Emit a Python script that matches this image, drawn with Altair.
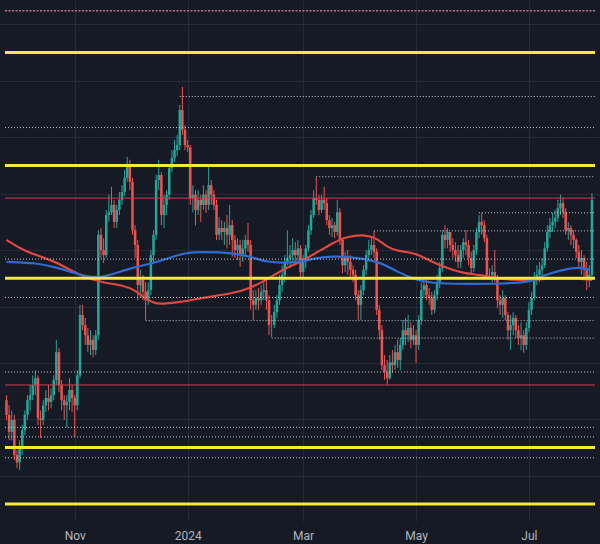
import altair as alt
import numpy as np
import pandas as pd

# ---------------- data (EUR/USD style daily candles) ----------------
FIRST_OPEN = 1.0584
CLOSES = [
    1.0558, 1.0528, 1.0549, 1.0487, 1.0474, 1.0499, 1.0531, 1.0558, 1.0584, 1.0593,
    1.0611, 1.0623, 1.0552, 1.0549, 1.0575, 1.0588, 1.0581, 1.0593, 1.0620, 1.0669,
    1.0611, 1.0584, 1.0575, 1.0581, 1.0602, 1.0588, 1.0575, 1.0628, 1.0735, 1.0717,
    1.0699, 1.0682, 1.0691, 1.0673, 1.0699, 1.0877, 1.0850, 1.0841, 1.0912, 1.0917,
    1.0930, 1.0900, 1.0921, 1.0939, 1.0953, 1.0978, 1.1001, 1.0971, 1.0885, 1.0859,
    1.0788, 1.0797, 1.0776, 1.0761, 1.0779, 1.0841, 1.0877, 1.0974, 1.0983, 1.0912,
    1.0930, 1.0948, 1.0995, 1.1013, 1.1027, 1.1036, 1.1098, 1.1063, 1.1036, 1.1032,
    1.0942, 1.0948, 1.0921, 1.0939, 1.0930, 1.0948, 1.0930, 1.0965, 1.0948, 1.0930,
    1.0877, 1.0889, 1.0882, 1.0889, 1.0877, 1.0894, 1.0868, 1.0850, 1.0859, 1.0841,
    1.0853, 1.0868, 1.0859, 1.0761, 1.0753, 1.0765, 1.0761, 1.0776, 1.0779, 1.0761,
    1.0717, 1.0717, 1.0740, 1.0761, 1.0788, 1.0806, 1.0829, 1.0836, 1.0841, 1.0850,
    1.0841, 1.0853, 1.0811, 1.0829, 1.0853, 1.0885, 1.0912, 1.0942, 1.0939, 1.0921,
    1.0939, 1.0933, 1.0903, 1.0889, 1.0894, 1.0882, 1.0917, 1.0868, 1.0823, 1.0836,
    1.0829, 1.0815, 1.0806, 1.0770, 1.0753, 1.0779, 1.0815, 1.0841, 1.0850, 1.0859,
    1.0847, 1.0744, 1.0708, 1.0646, 1.0634, 1.0623, 1.0651, 1.0646, 1.0669, 1.0655,
    1.0682, 1.0708, 1.0699, 1.0712, 1.0691, 1.0699, 1.0682, 1.0726, 1.0779, 1.0788,
    1.0770, 1.0765, 1.0744, 1.0770, 1.0793, 1.0818, 1.0877, 1.0868, 1.0882, 1.0859,
    1.0850, 1.0841, 1.0829, 1.0850, 1.0864, 1.0859, 1.0836, 1.0818, 1.0850, 1.0882,
    1.0900, 1.0894, 1.0871, 1.0806, 1.0806, 1.0811, 1.0800, 1.0761, 1.0753, 1.0765,
    1.0735, 1.0708, 1.0717, 1.0730, 1.0708, 1.0694, 1.0699, 1.0682, 1.0712, 1.0744,
    1.0765, 1.0797, 1.0806, 1.0815, 1.0823, 1.0853, 1.0882, 1.0894, 1.0900, 1.0907,
    1.0924, 1.0933, 1.0917, 1.0885, 1.0889, 1.0877, 1.0868, 1.0847, 1.0829, 1.0836,
    1.0815, 1.0800, 1.0806, 1.0939,
]
HIGHS = [
    1.0593, 1.0575, 1.0566, 1.0558, 1.0496, 1.0513, 1.0540, 1.0566, 1.0593, 1.0611,
    1.0628, 1.0637, 1.0628, 1.0566, 1.0584, 1.0602, 1.0611, 1.0605, 1.0628, 1.0691,
    1.0676, 1.0620, 1.0593, 1.0593, 1.0623, 1.0611, 1.0593, 1.0637, 1.0753, 1.0753,
    1.0730, 1.0712, 1.0708, 1.0699, 1.0708, 1.0885, 1.0889, 1.0871, 1.0921, 1.0948,
    1.0962, 1.0939, 1.0930, 1.0953, 1.0965, 1.0992, 1.1015, 1.1010, 1.0978, 1.0894,
    1.0868, 1.0815, 1.0806, 1.0793, 1.0793, 1.0850, 1.0885, 1.0983, 1.1010, 1.0988,
    1.0948, 1.0956, 1.1001, 1.1027, 1.1045, 1.1054, 1.1107, 1.1139, 1.1071, 1.1045,
    1.1036, 1.0965, 1.0956, 1.0956, 1.0948, 1.0965, 1.0956, 1.0997, 1.0974, 1.0956,
    1.0939, 1.0908, 1.0903, 1.0900, 1.0912, 1.0930, 1.0903, 1.0877, 1.0871, 1.0868,
    1.0868, 1.0877, 1.0898, 1.0868, 1.0779, 1.0779, 1.0783, 1.0788, 1.0793, 1.0797,
    1.0770, 1.0735, 1.0753, 1.0770, 1.0806, 1.0823, 1.0841, 1.0885, 1.0859, 1.0871,
    1.0864, 1.0868, 1.0859, 1.0841, 1.0859, 1.0894, 1.0921, 1.0956, 1.0979, 1.0948,
    1.0948, 1.0962, 1.0942, 1.0912, 1.0907, 1.0900, 1.0939, 1.0924, 1.0871, 1.0847,
    1.0850, 1.0841, 1.0823, 1.0815, 1.0779, 1.0788, 1.0823, 1.0850, 1.0868, 1.0873,
    1.0884, 1.0853, 1.0753, 1.0717, 1.0664, 1.0655, 1.0664, 1.0673, 1.0682, 1.0691,
    1.0694, 1.0726, 1.0730, 1.0735, 1.0722, 1.0717, 1.0708, 1.0735, 1.0793, 1.0800,
    1.0797, 1.0783, 1.0776, 1.0779, 1.0806, 1.0829, 1.0885, 1.0894, 1.0889, 1.0882,
    1.0871, 1.0864, 1.0859, 1.0859, 1.0871, 1.0885, 1.0868, 1.0847, 1.0859, 1.0889,
    1.0912, 1.0916, 1.0903, 1.0877, 1.0818, 1.0823, 1.0850, 1.0806, 1.0770, 1.0779,
    1.0770, 1.0740, 1.0735, 1.0740, 1.0735, 1.0717, 1.0722, 1.0708, 1.0722, 1.0758,
    1.0776, 1.0811, 1.0823, 1.0829, 1.0836, 1.0864, 1.0894, 1.0907, 1.0916, 1.0921,
    1.0939, 1.0948, 1.0942, 1.0924, 1.0900, 1.0894, 1.0885, 1.0871, 1.0859, 1.0850,
    1.0841, 1.0829, 1.0823, 1.0951,
]
LOWS = [
    1.0549, 1.0513, 1.0513, 1.0478, 1.0464, 1.0460, 1.0487, 1.0522, 1.0549, 1.0566,
    1.0584, 1.0593, 1.0540, 1.0517, 1.0540, 1.0563, 1.0566, 1.0570, 1.0584, 1.0611,
    1.0598, 1.0566, 1.0549, 1.0536, 1.0566, 1.0563, 1.0519, 1.0566, 1.0623, 1.0708,
    1.0682, 1.0669, 1.0664, 1.0660, 1.0664, 1.0691, 1.0836, 1.0827, 1.0836, 1.0900,
    1.0912, 1.0889, 1.0889, 1.0912, 1.0930, 1.0946, 1.0971, 1.0956, 1.0877, 1.0836,
    1.0761, 1.0765, 1.0761, 1.0726, 1.0753, 1.0770, 1.0829, 1.0868, 1.0956, 1.0894,
    1.0889, 1.0912, 1.0939, 1.0988, 1.1006, 1.1017, 1.1027, 1.1054, 1.1027, 1.1024,
    1.0930, 1.0917, 1.0894, 1.0912, 1.0900, 1.0921, 1.0916, 1.0921, 1.0930, 1.0921,
    1.0868, 1.0868, 1.0868, 1.0859, 1.0853, 1.0859, 1.0838, 1.0836, 1.0832, 1.0820,
    1.0829, 1.0841, 1.0847, 1.0744, 1.0726, 1.0744, 1.0744, 1.0753, 1.0761, 1.0744,
    1.0699, 1.0696, 1.0712, 1.0730, 1.0753, 1.0776, 1.0793, 1.0823, 1.0818, 1.0829,
    1.0823, 1.0832, 1.0802, 1.0802, 1.0818, 1.0847, 1.0877, 1.0907, 1.0930, 1.0912,
    1.0916, 1.0921, 1.0894, 1.0877, 1.0873, 1.0871, 1.0875, 1.0859, 1.0809, 1.0811,
    1.0806, 1.0802, 1.0793, 1.0761, 1.0726, 1.0726, 1.0770, 1.0806, 1.0832, 1.0841,
    1.0836, 1.0735, 1.0691, 1.0637, 1.0620, 1.0611, 1.0620, 1.0632, 1.0637, 1.0641,
    1.0637, 1.0673, 1.0682, 1.0687, 1.0676, 1.0682, 1.0650, 1.0673, 1.0717, 1.0765,
    1.0761, 1.0753, 1.0735, 1.0738, 1.0761, 1.0783, 1.0811, 1.0853, 1.0853, 1.0847,
    1.0836, 1.0829, 1.0818, 1.0818, 1.0836, 1.0841, 1.0823, 1.0809, 1.0811, 1.0841,
    1.0871, 1.0877, 1.0864, 1.0800, 1.0797, 1.0793, 1.0793, 1.0747, 1.0735, 1.0730,
    1.0726, 1.0691, 1.0673, 1.0699, 1.0694, 1.0682, 1.0673, 1.0668, 1.0673, 1.0705,
    1.0735, 1.0761, 1.0788, 1.0793, 1.0800, 1.0818, 1.0847, 1.0871, 1.0882, 1.0889,
    1.0900, 1.0912, 1.0907, 1.0877, 1.0868, 1.0859, 1.0853, 1.0836, 1.0818, 1.0806,
    1.0797, 1.0779, 1.0784, 1.0797,
]

# moving averages, sampled at candle indices
RED_MA_IDX = [0, 7, 18, 29, 37, 44, 49, 52, 56, 59, 67, 74, 87, 93, 99, 105, 112, 118, 124,
              130, 137, 141, 145, 149, 156, 162, 168, 174, 180, 187, 193, 199, 205, 212, 218, 223]
RED_MA = [1.0868, 1.0847, 1.0832, 1.0802, 1.0792, 1.0788, 1.0779, 1.0767, 1.0756, 1.0754,
          1.0758, 1.0765, 1.0774, 1.0783, 1.0797, 1.0815, 1.0829, 1.0845, 1.0862, 1.0875,
          1.0877, 1.0871, 1.0855, 1.0848, 1.0845, 1.0829, 1.0818, 1.0809, 1.0806, 1.0800,
          1.0797, 1.0797, 1.0799, 1.0800, 1.0800, 1.0797]
BLUE_MA_IDX = [0, 12, 18, 25, 31, 37, 43, 49, 56, 62, 68, 74, 87, 93, 99, 105, 112, 118, 124,
               130, 137, 143, 149, 156, 162, 168, 187, 193, 199, 205, 212, 218, 222]
BLUE_MA = [1.0829, 1.0827, 1.0820, 1.0811, 1.0802, 1.0802, 1.0811, 1.0820, 1.0827, 1.0836,
           1.0845, 1.0847, 1.0845, 1.0838, 1.0829, 1.0827, 1.0829, 1.0836, 1.0839, 1.0838,
           1.0834, 1.0827, 1.0811, 1.0797, 1.0792, 1.0790, 1.0790, 1.0792, 1.0793, 1.0806,
           1.0815, 1.0820, 1.0815]

# horizontal drawings
YELLOW_LEVELS = [1.1200, 1.1000, 1.0800, 1.0500, 1.0400]
RED_LEVELS = [1.0942, 1.0611]
TOP_LEVEL = [1.1274]
DOTTED_LEVELS = [1.1122, 1.1067, 1.0980, 1.0916, 1.0884, 1.0834, 1.0766, 1.0725, 1.0694,
                 1.0634, 1.0536, 1.0519, 1.0482]
DOTTED_FROM = [66, None, 118, 180, 140, None, None, 53, 101, None, None, None, None]

TICK_IDX = [26, 69, 113, 156, 199]
TICK_TEXT = ["Nov", "2024", "Mar", "May", "Jul"]
PRICE_GRID = [1.045, 1.055, 1.065, 1.075, 1.085, 1.095, 1.105, 1.115, 1.125]

# ---------------- styling ----------------
BG = "#161a25"
GRID = "#262a36"
UP = "#26a69a"
DOWN = "#ef5350"
X_DOMAIN = [-0.56, 224.16]
Y_DOMAIN = [1.0370, 1.1293]

opens = [FIRST_OPEN] + CLOSES[:-1]
df = pd.DataFrame({"i": np.arange(len(CLOSES)), "open": opens, "close": CLOSES,
                   "high": HIGHS, "low": LOWS})
df["top"] = df[["high", "open", "close"]].max(axis=1)
df["bot"] = df[["low", "open", "close"]].min(axis=1)
df["dir"] = np.where(df["close"] >= df["open"], "up", "down")

x_scale = alt.Scale(domain=X_DOMAIN, nice=False, zero=False)
y_scale = alt.Scale(domain=Y_DOMAIN, nice=False, zero=False)
col_scale = alt.Scale(domain=["up", "down"], range=[UP, DOWN])

label_expr = " : ".join(f"datum.value == {v} ? '{t}'" for v, t in zip(TICK_IDX, TICK_TEXT)) + " : ''"
x_axis = alt.Axis(values=TICK_IDX, labelExpr=label_expr, grid=True, gridColor=GRID,
                  gridWidth=1, domain=False, ticks=False, labelColor="#b2b5be",
                  labelFontSize=12, labelFont="Roboto", labelPadding=9, title=None,
                  labelFlush=False)
y_axis = alt.Axis(values=PRICE_GRID, grid=True, gridColor=GRID, labels=False, ticks=False,
                  domain=False, title=None)


def X(field):
    return alt.X(field, type="quantitative", scale=x_scale, axis=x_axis)


def Y(field):
    return alt.Y(field, type="quantitative", scale=y_scale, axis=y_axis)


wicks = alt.Chart(df).mark_rule(strokeWidth=1, clip=True).encode(
    x=X("i"), y=Y("bot"), y2="top:Q",
    color=alt.Color("dir:N", scale=col_scale, legend=None),
)
bodies = alt.Chart(df).mark_bar(size=2.5, clip=True).encode(
    x=X("i"), y=Y("open"), y2="close:Q",
    color=alt.Color("dir:N", scale=col_scale, legend=None),
)

red_df = pd.DataFrame({"i": RED_MA_IDX, "v": RED_MA})
blue_df = pd.DataFrame({"i": BLUE_MA_IDX, "v": BLUE_MA})


def ma_layer(d, color):
    return alt.Chart(d).mark_line(interpolate="basis", strokeWidth=2.2, color=color,
                                  clip=True).encode(x=X("i"), y=Y("v"))


def level_layer(levels, starts, color, width, dash=None, opacity=1.0):
    d = pd.DataFrame({
        "level": levels,
        "x0": [X_DOMAIN[0] if s is None else s for s in starts],
        "x1": [X_DOMAIN[1]] * len(levels),
    })
    kw = dict(color=color, strokeWidth=width, clip=True, opacity=opacity)
    if dash:
        kw["strokeDash"] = dash
    return alt.Chart(d).mark_rule(**kw).encode(x=X("x0"), x2="x1:Q", y=Y("level"))


layers = [
    wicks,
    bodies,
    ma_layer(red_df, "#e0483f"),
    ma_layer(blue_df, "#2f6bd0"),
    level_layer(DOTTED_LEVELS, DOTTED_FROM, "#d6d8df", 1, [1, 2], 0.9),
    level_layer(RED_LEVELS, [None] * len(RED_LEVELS), "#cc3f4c", 1),
    level_layer(TOP_LEVEL, [None], "#c07088", 1.5, [2, 1.5]),
    level_layer(YELLOW_LEVELS, [None] * len(YELLOW_LEVELS), "#f5e642", 3),
]

chart = alt.layer(*layers).properties(
    width=600,
    height=521,
    autosize=alt.AutoSizeParams(type="none"),
    padding={"left": 0, "right": 0, "top": 0, "bottom": 23},
    background=BG,
).configure_view(stroke=None)

chart.save("out.html", embed_options={"renderer": "svg", "actions": False})
